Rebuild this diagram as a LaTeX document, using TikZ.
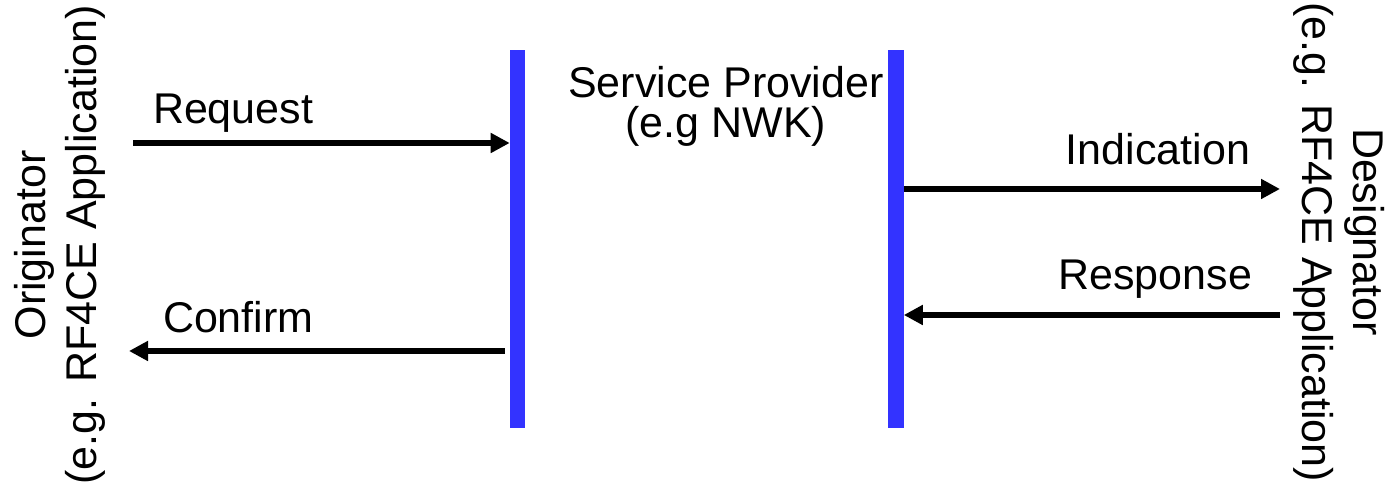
\documentclass[tikz,border=0pt]{standalone}
\usepackage{fontspec}
\setmainfont{Liberation Sans}
\usetikzlibrary{arrows.meta}
\definecolor{barColor}{RGB}{51,51,255}
\tikzset{
  lifebar/.style={fill=barColor,draw=none,inner sep=0pt,outer sep=0pt,
    minimum width=7.8pt,minimum height=189pt},
  msg/.style={line width=2.8pt,-{Triangle[length=9.5pt,width=9.5pt]}},
  lbl/.style={inner sep=0pt,outer sep=0pt,font=\fontsize{21.5}{25}\selectfont}
}
\begin{document}
\begin{tikzpicture}[x=0.5pt,y=0.5pt]
\path[use as bounding box,fill=white] (0,0) rectangle (1388,485);

% service provider bars
\node[lifebar] (lbar) at (517.5,246) {};
\node[lifebar] (rbar) at (896,246) {};

\node[lbl,anchor=base] (prov) at (726,387) {Service Provider};
\node[lbl,anchor=base] (nwk) at (726,347) {(e.g NWK)};

% originator side
\node[lbl,rotate=90,anchor=base] (orig) at (46,240) {Originator};
\node[lbl,rotate=90,anchor=base] (origapp) at (96,240) {(e.g. RF4CE Application)};

\coordinate (reqstart) at (133,342);
\coordinate (cnfend) at (129,134);
\draw[msg] (reqstart) -- (reqstart -| lbar.west);
\draw[msg] ([xshift=-2.5pt]lbar.west |- cnfend) -- (cnfend);

\node[lbl,anchor=base west] (req) at (153,361) {Request};
\node[lbl,anchor=base west] (cnf) at (163,152) {Confirm};

% designator side
\node[lbl,rotate=-90,anchor=base] (desg) at (1353,253) {Designator};
\node[lbl,rotate=-90,anchor=base] (desgapp) at (1302,243) {(e.g. RF4CE Application)};

\coordinate (indend) at (1280,296);
\coordinate (rspstart) at (1280,170);
\draw[msg] (indend -| rbar.east) -- (indend);
\draw[msg] (rspstart) -- (rspstart -| rbar.east);

\node[lbl,anchor=base east] (ind) at (1250,320) {Indication};
\node[lbl,anchor=base east] (rsp) at (1252,195) {Response};
\end{tikzpicture}
\end{document}
